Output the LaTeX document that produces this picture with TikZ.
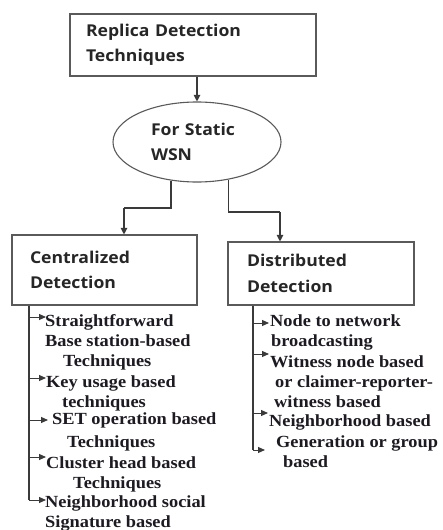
\documentclass[tikz,border=0pt]{standalone}
\usepackage{fontspec}
\usetikzlibrary{arrows.meta,shapes.geometric}
\newfontfamily\boxfont{Open Sans}[FakeStretch=1.08]
\newfontfamily\itemfont{Liberation Serif}[FakeStretch=1.08]
\definecolor{ln}{HTML}{3A3A3A}
\definecolor{bd}{HTML}{5A5A5A}
\definecolor{tx}{HTML}{1E1A22}
\tikzset{
  boxnode/.style={draw=bd, line width=1.1pt, rectangle, align=left, inner xsep=0pt,
     font=\boxfont\bfseries\fontsize{16.3}{25.5}\selectfont, text=black!85},
  ellnode/.style={draw=bd, line width=1.1pt, ellipse, align=left, inner sep=0pt,
     font=\boxfont\bfseries\fontsize{16.3}{25.5}\selectfont, text=black!85},
  item/.style={anchor=base west, inner sep=0pt, align=left, text=tx,
     font=\itemfont\bfseries\fontsize{17}{20}\selectfont},
  conn/.style={draw=ln, line width=1.1pt, -{Triangle[length=6.5pt,width=6.5pt]}},
  trunk/.style={draw=ln, line width=1.1pt},
  tarr/.style={draw=ln, line width=1pt, -{Triangle[length=7pt,width=6pt]}}
}
\begin{document}
\begin{tikzpicture}[x=1pt,y=-1pt]
\useasboundingbox[fill=white] (0,0) rectangle (442,530);
% main nodes
\node[boxnode, minimum width=246pt, minimum height=62pt, text width=214pt] (top) at (193,45)
  {Replica Detection\\Techniques};
\node[ellnode, minimum width=168pt, minimum height=80pt, text width=92pt] (ell) at (197,142)
  {For Static\\WSN};
\node[boxnode, minimum width=185pt, minimum height=70pt, text width=149pt] (cen) at (104.5,270)
  {Centralized\\Detection};
\node[boxnode, minimum width=186pt, minimum height=63pt, text width=148pt] (dis) at (321,273.5)
  {Distributed\\Detection};
% connectors
\coordinate (jl) at (124,208);
\coordinate (jr) at (280,212);
\draw[conn] (top.south -| ell.north) -- (ell.north);
\draw[trunk] (ell.236.8) |- (jl);
\draw[conn] (jl) -- (jl |- cen.north);
\draw[trunk] (ell.310.9) |- (jr);
\draw[conn] (jr) -- (jr |- dis.north);
% left list
\coordinate (tL) at (29,0);
\coordinate (a1) at (46,317);
\coordinate (a2) at (46,378);
\coordinate (a3) at (48,420);
\coordinate (a4) at (46,457);
\coordinate (a5) at (46,500);
\draw[trunk] (cen.south -| tL) -- (tL |- a5);
\foreach \a in {a1,a2,a3,a4,a5} \draw[tarr] (tL |- \a) -- (\a);
\node[item] (l1) at (45,366) {Straightforward\\Base station-based\\\hspace*{18pt}Techniques};
\node[item] (l2) at (46,407) {Key usage based\\\hspace*{16pt}techniques};
\node[item] (l3) at (52,447) {SET operation based\\[3pt]\hspace*{15pt}Techniques};
\node[item] (l4) at (46,488) {Cluster head based\\\hspace*{27pt}Techniques};
\node[item] (l5) at (45,527) {Neighborhood social\\Signature based};
% right list
\coordinate (tR) at (253,0);
\coordinate (b1) at (269,323);
\coordinate (b2) at (269,354);
\coordinate (b3) at (268,413);
\coordinate (b4) at (265,450);
\draw[trunk] (dis.south -| tR) -- (tR |- b4);
\foreach \b in {b1,b2,b3,b4} \draw[tarr] (tR |- \b) -- (\b);
\node[item] (r1) at (270,346) {Node to network\\\hspace*{1pt}broadcasting};
\node[item] (r2) at (270,407) {Witness node based\\\hspace*{5pt}or claimer-reporter-\\\hspace*{4pt}witness based};
\node[item] (r3) at (269,426) {Neighborhood based};
\node[item] (r4) at (276,467) {Generation or group\\\hspace*{7pt}based};
\end{tikzpicture}
\end{document}
